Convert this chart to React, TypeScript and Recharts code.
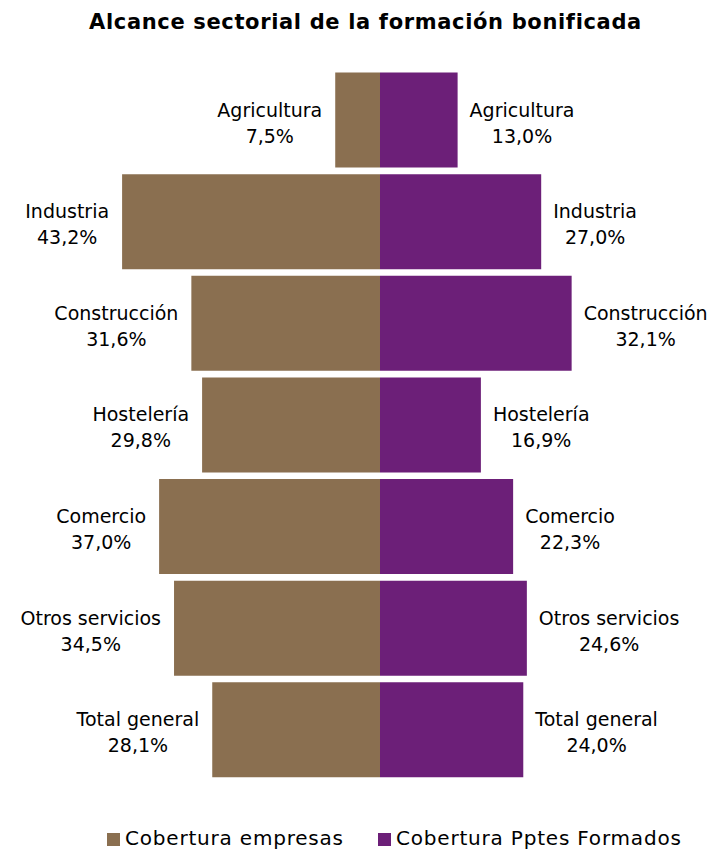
import React from 'react';
import { BarChart, Bar, XAxis, YAxis, LabelList } from 'recharts';

const categories = ['Agricultura', 'Industria', 'Construcción', 'Hostelería', 'Comercio', 'Otros servicios', 'Total general'];
const empresas = [7.5, 43.2, 31.6, 29.8, 37.0, 34.5, 28.1];
const formados = [13.0, 27.0, 32.1, 16.9, 22.3, 24.6, 24.0];
const seriesNames = ['Cobertura empresas', 'Cobertura Pptes Formados'];

const BROWN = '#8A6F50';
const PURPLE = '#6C1F78';
const FONT = "'DejaVu Sans', Verdana, sans-serif";
const FONT_SIZE = 19;

// left side values are negated so the bars grow to the left of zero
const data = categories.map((name, i) => ({
  name,
  empresas: -empresas[i],
  formados: formados[i],
}));

let ctx: CanvasRenderingContext2D | null = null;
function textWidth(s: string) {
  if (!ctx) ctx = document.createElement('canvas').getContext('2d');
  if (!ctx) return s.length * FONT_SIZE * 0.6;
  ctx.font = `${FONT_SIZE}px ${FONT}`;
  return ctx.measureText(s).width;
}

const fmt = (v: number) => Math.abs(v).toFixed(1).replace('.', ',') + '%';

function makeLabel(side: 'left' | 'right') {
  return (props: any) => {
    const { x, y, width, height, value, index } = props;
    const left = Math.min(x, x + width);
    const right = Math.max(x, x + width);
    const cy = y + height / 2;
    const line1 = categories[index];
    const line2 = fmt(value);
    const w = Math.max(textWidth(line1), textWidth(line2));
    const cx = side === 'left' ? left - 13 - w / 2 : right + 12 + w / 2;
    return (
      <g>
        <text x={cx} y={cy - 3.5} textAnchor="middle" fontFamily={FONT} fontSize={FONT_SIZE} fill="#000">{line1}</text>
        <text x={cx} y={cy + 22.5} textAnchor="middle" fontFamily={FONT} fontSize={FONT_SIZE} fill="#000">{line2}</text>
      </g>
    );
  };
}

export default function App() {
  return (
    <div style={{ position: 'relative', width: 700, height: 842, fontFamily: FONT }}>
      <div style={{ position: 'absolute', left: 0, top: 3, width: 715, textAlign: 'center', fontSize: 21, fontWeight: 'bold', lineHeight: '22px', letterSpacing: 0.65 }}>
        Alcance sectorial de la formación bonificada
      </div>
      <BarChart
        width={708}
        height={790}
        data={data}
        layout="vertical"
        stackOffset="sign"
        margin={{ top: 61.5, right: 37.5, bottom: 17, left: 73.5 }}
      >
        <XAxis type="number" domain={[-50, 50]} hide />
        <YAxis type="category" dataKey="name" hide />
        <Bar dataKey="empresas" stackId="a" fill={BROWN} barSize={95} isAnimationActive={false}>
          <LabelList dataKey="empresas" content={makeLabel('left')} />
        </Bar>
        <Bar dataKey="formados" stackId="a" fill={PURPLE} barSize={95} isAnimationActive={false}>
          <LabelList dataKey="formados" content={makeLabel('right')} />
        </Bar>
      </BarChart>
      {[BROWN, PURPLE].map((c, i) => (
        <div key={i} style={{ position: 'absolute', left: i === 0 ? 99 : 370, top: 820, display: 'flex', alignItems: 'center', fontSize: 20, lineHeight: '20px', letterSpacing: 0.8, whiteSpace: 'nowrap' }}>
          <span style={{ display: 'inline-block', width: 13, height: 13, background: c, marginRight: 5, marginTop: 2 }} />
          {seriesNames[i]}
        </div>
      ))}
    </div>
  );
}
